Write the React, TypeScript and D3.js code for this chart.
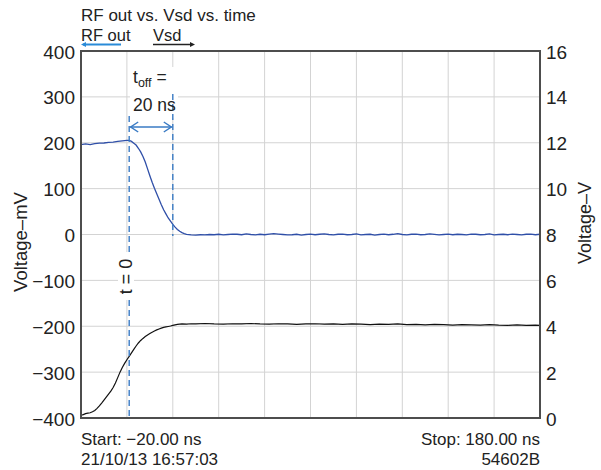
import React from 'react';
import * as d3 from 'd3';

// RF out trace, [time ns, mV] (left axis)
const rfOut: [number, number][] = [
  [-20, 196], [-18, 197.5], [-16, 196], [-14, 198], [-12, 199], [-10, 199.5], [-8, 201], [-6, 201.5],
  [-4, 203], [-2, 204], [0, 205], [1, 205], [2, 203], [3, 199], [4, 195], [5, 188], [6, 180], [7, 170],
  [8, 158], [9, 143], [10, 128], [11, 114], [12, 101], [13, 89], [14, 77], [15, 65], [16, 54], [17, 45],
  [18, 36], [19, 29], [20, 22], [21, 16], [22, 11], [23, 7], [24, 4], [25, 2], [26, 0.5], [28, -1],
  [30, -1.5], [32, -0.5], [34, -1], [36, 0], [38, -0.5], [40, 0.5], [42, -1], [44, 0], [46, 1], [48, 0.5],
  [50, -0.5], [52, 1.5], [54, 0], [56, -1], [58, 0.5], [60, -0.5], [62, 1], [64, 2], [66, 1], [68, 0],
  [70, -1], [72, -0.5], [74, 0.5], [76, -1.5], [78, 0], [80, 1], [82, -0.5], [84, 0.5], [86, 1.5], [88, 0],
  [90, -1], [92, 0.5], [94, 1], [96, -0.5], [98, 0], [100, 1.5], [102, -1], [104, 0], [106, 0.5], [108, -1.5],
  [110, 0], [112, 1], [114, -0.5], [116, 0.5], [118, 2], [120, 0], [122, -1], [124, 0.5], [126, 1], [128, -0.5],
  [130, 0], [132, 1.5], [134, 0.5], [136, -1], [138, 0], [140, 1], [142, -0.5], [144, 0.5], [146, 0], [148, -1],
  [150, 1], [152, 0.5], [154, -0.5], [156, 0], [158, 1.5], [160, -1], [162, 0], [164, 0.5], [166, -0.5], [168, 1],
  [170, 0], [172, -1], [174, 0.5], [176, 1], [178, -0.5], [180, 0.5],
];

// Vsd trace, [time ns, V] (right axis)
const vsd: [number, number][] = [
  [-20, 0.12], [-19, 0.15], [-18, 0.19], [-17, 0.21], [-16, 0.23], [-15, 0.27], [-14, 0.33], [-13, 0.42],
  [-12, 0.53], [-11, 0.65], [-10, 0.78], [-9, 0.91], [-8, 1.04], [-7, 1.17], [-6, 1.33], [-5, 1.53],
  [-4, 1.76], [-3, 2.0], [-2, 2.2], [-1, 2.38], [0, 2.54], [1, 2.69], [2, 2.84], [3, 2.99], [4, 3.14],
  [5, 3.27], [6, 3.38], [7, 3.47], [8, 3.55], [9, 3.62], [10, 3.68], [11, 3.74], [12, 3.79], [13, 3.84],
  [14, 3.88], [15, 3.92], [16, 3.95], [17, 3.97], [18, 3.99], [19, 4.01], [20, 4.04], [21, 4.06], [22, 4.08],
  [24, 4.1], [26, 4.09], [28, 4.11], [30, 4.1], [34, 4.12], [38, 4.1], [42, 4.09], [46, 4.11], [50, 4.1],
  [54, 4.12], [58, 4.1], [62, 4.09], [66, 4.11], [70, 4.1], [74, 4.08], [78, 4.1], [82, 4.11], [86, 4.09],
  [90, 4.1], [94, 4.08], [98, 4.1], [102, 4.09], [106, 4.07], [110, 4.09], [114, 4.08], [118, 4.1], [122, 4.07],
  [126, 4.08], [130, 4.06], [134, 4.08], [138, 4.07], [142, 4.05], [146, 4.07], [150, 4.06], [154, 4.05],
  [158, 4.07], [162, 4.05], [166, 4.04], [170, 4.06], [174, 4.04], [178, 4.05], [180, 4.04],
];

const leftTicks = [-400, -300, -200, -100, 0, 100, 200, 300, 400];
const rightTicks = [0, 2, 4, 6, 8, 10, 12, 14, 16];
const timeGrid = [-20, 0, 20, 40, 60, 80, 100, 120, 140, 160, 180];

const FONT = '"Liberation Sans", Arial, sans-serif';

export default function App() {
  const x = d3.scaleLinear().domain([-20, 180]).range([81, 540]);
  const yL = d3.scaleLinear().domain([-400, 400]).range([418, 51]);
  const yR = d3.scaleLinear().domain([0, 16]).range([418, 51]);

  const rfLine = d3.line<[number, number]>().x(d => x(d[0])).y(d => yL(d[1]));
  const vsdLine = d3.line<[number, number]>().x(d => x(d[0])).y(d => yR(d[1]));

  const annBlue = '#3a7bc4';
  const t0 = x(1);
  const t20 = x(20);
  const arrowY = 127;

  return (
    <svg width={601} height={470} style={{position: 'absolute', left: 0, top: 0, background: '#fff'}}
      fontFamily={FONT} fill="#222">
      <defs>
        <clipPath id="plot"><rect x={81} y={51} width={459} height={367} /></clipPath>
      </defs>

      {/* grid */}
      {leftTicks.slice(1, -1).map(v => (
        <line key={'h' + v} x1={81} x2={540} y1={yL(v)} y2={yL(v)} stroke="#d3d3d3" strokeWidth={1} />
      ))}
      {timeGrid.slice(1, -1).map(t => (
        <line key={'v' + t} x1={x(t)} x2={x(t)} y1={51} y2={418} stroke="#d3d3d3" strokeWidth={1} />
      ))}

      {/* annotation backgrounds */}
      <rect x={130} y={67} width={48} height={51} fill="#fff" />
      <rect x={118} y={252} width={16} height={48} fill="#fff" />

      {/* traces */}
      <g clipPath="url(#plot)">
        <path d={vsdLine(vsd) || ''} fill="none" stroke="#111" strokeWidth={1.2} />
        <path d={rfLine(rfOut) || ''} fill="none" stroke="#2f4fa8" strokeWidth={1.3} />
      </g>

      {/* dashed markers */}
      <line x1={t0} x2={t0} y1={116} y2={252} stroke={annBlue} strokeWidth={1.4} strokeDasharray="6,4" />
      <line x1={t0} x2={t0} y1={300} y2={418} stroke={annBlue} strokeWidth={1.4} strokeDasharray="6,4" />
      <line x1={t20} x2={t20} y1={94} y2={236} stroke={annBlue} strokeWidth={1.4} strokeDasharray="6,4" />

      {/* double arrow */}
      <g stroke={annBlue} strokeWidth={1.5} fill="none">
        <line x1={t0 + 1} x2={t20 - 1} y1={arrowY} y2={arrowY} />
        <polyline points={`${t0 + 9},${arrowY - 5} ${t0 + 1.5},${arrowY} ${t0 + 9},${arrowY + 5}`} />
        <polyline points={`${t20 - 9},${arrowY - 5} ${t20 - 1.5},${arrowY} ${t20 - 9},${arrowY + 5}`} />
      </g>

      <text x={133} y={83} fontSize={17.5}>t<tspan fontSize={12.5} dy={4}>off</tspan><tspan dy={-4}> =</tspan></text>
      <text x={133} y={111} fontSize={17.5}>20 ns</text>
      <text transform="translate(126,276.5) rotate(-90)" textAnchor="middle" dominantBaseline="central" fontSize={18}>t = 0</text>

      {/* frame */}
      <rect x={81} y={51} width={459} height={367} fill="none" stroke="#4d4d4d" strokeWidth={2} />

      {/* tick labels */}
      {leftTicks.map(v => (
        <text key={'l' + v} x={75} y={yL(v) + 1} textAnchor="end" dominantBaseline="central" fontSize={19}>
          {v < 0 ? '\u2212' + Math.abs(v) : v}
        </text>
      ))}
      {rightTicks.map(v => (
        <text key={'r' + v} x={546} y={yR(v) + 1} dominantBaseline="central" fontSize={19}>{v}</text>
      ))}

      {/* axis titles */}
      <text transform="translate(20,242) rotate(-90)" textAnchor="middle" dominantBaseline="central" fontSize={18.5}>Voltage–mV</text>
      <text transform="translate(585,223) rotate(-90)" textAnchor="middle" dominantBaseline="central" fontSize={18}>Voltage–V</text>

      {/* title & legend */}
      <text x={81} y={20.5} fontSize={17}>RF out vs. Vsd vs. time</text>
      <text x={81} y={40.5} fontSize={16.5}>RF out</text>
      <text x={153} y={40.5} fontSize={16.5}>Vsd</text>
      <line x1={83} x2={121} y1={44.5} y2={44.5} stroke="#2a8bd8" strokeWidth={1.8} />
      <path d="M81,44.5 L86,42 L86,47 Z" fill="#2a8bd8" />
      <line x1={153} x2={192} y1={44.5} y2={44.5} stroke="#222" strokeWidth={1.4} />
      <path d="M195,44.5 L190,42 L190,47 Z" fill="#222" />

      {/* footer */}
      <text x={81} y={445} fontSize={17}>Start: −20.00 ns</text>
      <text x={81} y={465} fontSize={17}>21/10/13 16:57:03</text>
      <text x={540} y={445} fontSize={17} textAnchor="end">Stop: 180.00 ns</text>
      <text x={540} y={465} fontSize={17} textAnchor="end">54602B</text>
    </svg>
  );
}
